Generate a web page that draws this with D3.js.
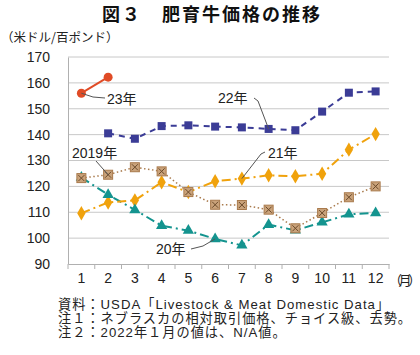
<!DOCTYPE html>
<html><head><meta charset="utf-8">
<script src="https://cdn.jsdelivr.net/npm/d3@7"></script>
<style>body{margin:0;background:#fff}</style>
</head><body>
<svg id="c" width="420" height="355"></svg>
<script>
const months = ["1","2","3","4","5","6","7","8","9","10","11","12"];
const yTicks = [90,100,110,120,130,140,150,160,170];
const y2019 = [123.2,124.5,127.4,125.8,117.8,112.9,112.8,111.0,103.8,109.7,115.8,120.0];
const y2020 = [123.4,116.8,110.9,104.8,102.9,99.7,97.2,105.2,103.0,106.1,109.2,109.7];
const y2021 = [109.6,113.8,114.6,121.6,117.8,122.0,123.0,124.3,123.9,124.9,134.2,140.2];
const y2022 = [null,140.5,138.4,143.3,143.6,143.1,142.8,142.2,141.7,148.9,156.2,156.7];
const y2023 = [156.0,162.2];
const title = "図３　肥育牛価格の推移";
const unitLabel = "（米ドル/百ポンド）";
const notes = ["資料：USDA「Livestock & Meat Domestic Data」","注１：ネブラスカの相対取引価格、チョイス級、去勢。","注２：2022年１月の値は、N/A値。"];

const svg = d3.select("#c");
const L=68, R=389, T=57, B=264;
const x = d3.scaleBand().domain(months).range([L,R]);
const y = d3.scaleLinear().domain([90,170]).range([B,T]);
const cx = m => x(m)+x.bandwidth()/2;

svg.append("text").attr("x",212).attr("y",21).attr("text-anchor","middle")
  .attr("font-family","Noto Sans CJK JP").attr("font-weight","bold").attr("font-size",18)
  .attr("letter-spacing",2).attr("fill","#111").text(title);
svg.append("text").attr("x",1).attr("y",42).attr("font-family","Noto Sans CJK JP")
  .attr("font-size",12.5).attr("fill","#222").text(unitLabel);

// grid
svg.append("g").selectAll("line").data(yTicks.filter(v=>v>90)).join("line")
  .attr("x1",L).attr("x2",R).attr("y1",d=>y(d)).attr("y2",d=>y(d))
  .attr("stroke","#c8c8c8").attr("stroke-width",1);
// y axis
const ya = svg.append("g").attr("transform",`translate(${L},0)`)
  .call(d3.axisLeft(y).tickValues(yTicks).tickSize(0).tickPadding(18));
ya.select(".domain").attr("stroke","#b0b0b0");
ya.selectAll("text").attr("font-family","Liberation Sans, Arial").attr("font-size",14).attr("fill","#222");
// x axis
const xa = svg.append("g").attr("transform",`translate(0,${B})`)
  .call(d3.axisBottom(x).tickSize(0).tickPadding(9));
xa.select(".domain").attr("stroke","#b0b0b0");
xa.selectAll("text").attr("font-family","Liberation Sans, Arial").attr("font-size",14).attr("fill","#222");
svg.append("g").selectAll("line").data(months.concat(["end"])).join("line")
  .attr("x1",(d,i)=>L+i*x.bandwidth()).attr("x2",(d,i)=>L+i*x.bandwidth())
  .attr("y1",B).attr("y2",B+5).attr("stroke","#b0b0b0");
svg.append("text").attr("x",389).attr("y",285).attr("font-family","Noto Sans CJK JP")
  .attr("font-size",13).attr("letter-spacing",-3.5).attr("fill","#222").text("（月）");

function series(data, color, dash, width){
  const pts = data.map((v,i)=>({m:months[i],v})).filter(d=>d.v!=null);
  const line = d3.line().x(d=>cx(d.m)).y(d=>y(d.v));
  svg.append("path").attr("d",line(pts)).attr("fill","none").attr("stroke",color)
    .attr("stroke-width",width).attr("stroke-dasharray",dash);
  return pts;
}
const c19="#a97a4c", c20="#14948f", c21="#f0a20c", c22="#3b3c96", c23="#e04b26";
const p19 = series(y2019,c19,"1.5,2.5",1.5);
const p20 = series(y2020,c20,"9,4,2,4",2);
const p21 = series(y2021,c21,"9,4,2,4",2);
const p22 = series(y2022,c22,"6,5",2);
const p23 = series(y2023,c23,null,2);

// markers
svg.append("g").selectAll("rect").data(p22).join("rect")
  .attr("x",d=>cx(d.m)-4).attr("y",d=>y(d.v)-4).attr("width",8).attr("height",8).attr("fill",c22);
svg.append("g").selectAll("path").data(p21).join("path")
  .attr("transform",d=>`translate(${cx(d.m)},${y(d.v)})`)
  .attr("d",d3.symbol(d3.symbolDiamond,60)).attr("fill",c21);
svg.append("g").selectAll("path").data(p20).join("path")
  .attr("transform",d=>`translate(${cx(d.m)},${y(d.v)})`)
  .attr("d",d3.symbol(d3.symbolTriangle,55)).attr("fill",c20);
const g19 = svg.append("g").selectAll("g").data(p19).join("g")
  .attr("transform",d=>`translate(${cx(d.m)},${y(d.v)})`);
g19.append("rect").attr("x",-4.5).attr("y",-4.5).attr("width",9).attr("height",9)
  .attr("fill","#c9a27a").attr("stroke","#a97a4c").attr("stroke-width",1);
g19.append("path").attr("d","M-3,-3L3,3M3,-3L-3,3").attr("stroke","#6b4a2a").attr("stroke-width",1);
svg.append("g").selectAll("circle").data(p23).join("circle")
  .attr("cx",d=>cx(d.m)).attr("cy",d=>y(d.v)).attr("r",4.5).attr("fill",c23);

// labels with leaders
const lab = (t,xx,yy)=>svg.append("text").attr("x",xx).attr("y",yy)
  .attr("font-family","Liberation Sans, Noto Sans CJK JP").attr("font-size",14).attr("fill","#222").text(t);
const lead = pts=>svg.append("path").attr("d",d3.line()(pts)).attr("fill","none")
  .attr("stroke","#555").attr("stroke-width",1);
lab("23年",107,104);
lead([[cx("1"),y(156)],[93,97],[105,98]]);
lab("22年",218,103);
lead([[254,98],[258,101],[cx("8"),y(142.2)]]);
lab("2019年",72,158);
lead([[96,161],[cx("2"),y(124.5)]]);
lab("21年",268,158);
lead([[265,152],[261,154],[cx("7"),y(123)]]);
lab("20年",156,254);
lead([[191,249],[203,246],[cx("6"),y(99.7)]]);

// notes
svg.append("g").selectAll("text").data(notes).join("text")
  .attr("x",58).attr("y",(d,i)=>309+i*14).attr("font-family","Liberation Sans, Noto Sans CJK JP")
  .attr("font-size",13.2).attr("letter-spacing",1.0).attr("fill","#222").text(d=>d);
</script>
</body></html>
